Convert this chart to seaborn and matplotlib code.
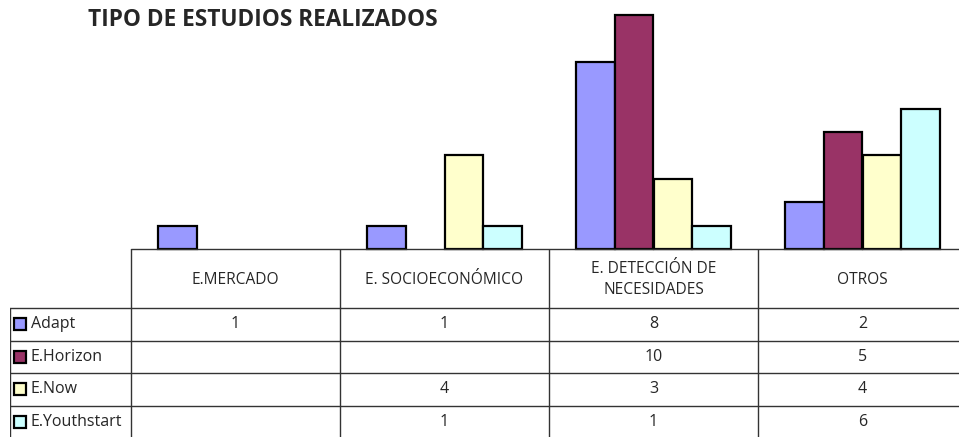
import pandas as pd
import matplotlib
matplotlib.use("Agg")
import matplotlib.pyplot as plt
import seaborn as sns

categorias = ["E.MERCADO", "E. SOCIOECONÓMICO", "E. DETECCIÓN DE\nNECESIDADES", "OTROS"]
series = ["Adapt", "E.Horizon", "E.Now", "E.Youthstart"]
adapt = [1, 1, 8, 2]
horizon = [0, 0, 10, 5]
now = [0, 4, 3, 4]
youthstart = [0, 1, 1, 6]
colores = ["#9999FF", "#993366", "#FFFFCC", "#CCFFFF"]

valores = [adapt, horizon, now, youthstart]
filas = []
for s, vals in zip(series, valores):
    for c, v in zip(categorias, vals):
        filas.append({"categoria": c, "serie": s, "valor": v})
df = pd.DataFrame(filas)

sns.set_style("white")
plt.rcParams["font.family"] = ["Open Sans", "DejaVu Sans"]

W, H = 959, 437
fig = plt.figure(figsize=(W / 100, H / 100), dpi=100)

# pixel layout (Excel style chart with data table)
x0, base, top = 131, 249, 15
col_w = 209
left_col = 10

ax = fig.add_axes([x0 / W, (H - base) / H, (W - x0) / W, (base - top) / H])
sns.barplot(data=df, x="categoria", y="valor", hue="serie", order=categorias,
            hue_order=series, palette=colores, saturation=1, width=0.737,
            edgecolor="black", linewidth=1.6, errorbar=None, legend=False, ax=ax)
for p in ax.patches:
    p.set_clip_on(False)
    if p.get_height() == 0:
        p.set_visible(False)
ax.set_xlim(-0.5, -0.5 + (W - x0) / col_w)
ax.set_ylim(0, 10)
ax.axis("off")

# data table
tab_h = H - base
ax_t = fig.add_axes([left_col / W, 0, (W - left_col) / W, tab_h / H])
xl = -0.5 - (x0 - left_col) / col_w
ax_t.set_xlim(xl, -0.5 + (W - x0) / col_w)
ax_t.set_ylim(tab_h, 0)
ax_t.axis("off")
lc = "#333333"
hdr = 59
row_h = 32.5
n = len(series)
ax_t.plot([-0.5, 5], [0, 0], color=lc, lw=1, clip_on=False)
for i in range(n):
    y = hdr + i * row_h
    ax_t.plot([xl, 5], [y, y], color=lc, lw=1)
ax_t.plot([xl, xl], [hdr, tab_h], color=lc, lw=1)
for j in range(len(categorias)):
    ax_t.plot([j - 0.5, j - 0.5], [0, tab_h], color=lc, lw=1)
for j, c in enumerate(categorias):
    ax_t.text(j, hdr / 2 + 1, c, ha="center", va="center", fontsize=11.2, linespacing=1.45)
for i, (s, vals, col) in enumerate(zip(series, valores, colores)):
    yc = hdr + (i + 0.5) * row_h
    ax_t.plot([xl + 10 / col_w], [yc], marker="s", ms=8, mfc=col, mec="black", mew=1.6)
    ax_t.text(xl + 21 / col_w, yc, s, ha="left", va="center", fontsize=11.5)
    for j, v in enumerate(vals):
        if v:
            ax_t.text(j, yc, str(v), ha="center", va="center", fontsize=11.5)

fig.text(88 / W, 1 - 20 / H, "TIPO DE ESTUDIOS REALIZADOS", fontsize=16.3,
         fontweight="bold", ha="left", va="center")

fig.savefig("out.png", dpi=100)
